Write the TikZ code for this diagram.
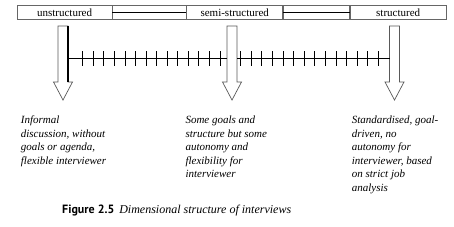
\documentclass[tikz,border=0pt]{standalone}
\usepackage{fontspec}
\setmainfont{Liberation Serif}
\newfontfamily\capsans{PT Sans}
\usetikzlibrary{positioning}

\begin{document}
\begin{tikzpicture}[x=1pt, y=-1pt,
  barbox/.style={draw=gray!80!black, line width=0.7pt, minimum height=14.5pt,
    inner sep=0pt, anchor=west, font=\fontsize{11}{13}\selectfont},
  arrowline/.style={draw=gray!70!black, line width=0.7pt, fill=white},
  desc/.style={anchor=north west, inner sep=0pt, align=left,
    font=\itshape\fontsize{11}{13.5}\selectfont}]
  \useasboundingbox (0,0) rectangle (454,226);
  % top bar
  \node[barbox, minimum width=94.5pt] (unstr) at (17,12.3) {unstructured};
  \node[barbox, minimum width=73.5pt] (gapA) at (unstr.east) {};
  \node[barbox, minimum width=96pt] (semi) at (gapA.east) {semi-structured};
  \node[barbox, minimum width=66pt] (gapB) at (semi.east) {};
  \node[barbox, minimum width=96pt] (str) at (gapB.east) {structured};
  \draw[line width=1.1pt] (gapA.west) -- (gapA.east);
  \draw[line width=1.1pt] (gapB.west) -- (gapB.east);
  % hollow arrows
  \foreach \c/\n in {63/lo, 232/mid, 394.5/hi} {
    \draw[arrowline] (\c-5,26) -- (\c+5,26) -- (\c+5,82) -- (\c+9.5,82)
      -- (\c,100) -- (\c-9.5,82) -- (\c-5,82) -- cycle;
    \coordinate (\n L) at (\c-5,58.5);
    \coordinate (\n R) at (\c+5,58.5);
  }
  \draw[line width=1.4pt] (68,26.3) -- (68,82);
  % scale with ticks
  \draw[line width=0.8pt] (loR) -- (midL);
  \draw[line width=0.8pt] (midR) -- (hiL);
  \foreach \i in {0,...,13} {
    \draw[line width=0.8pt] (82.7+10.56*\i,51) -- (82.7+10.56*\i,65.7);
    \draw[line width=0.8pt] (240.7+10.58*\i,51) -- (240.7+10.58*\i,65.7);
  }
  % descriptions
  \node[desc] (infml) at (20.7,115.7) {Informal\\discussion, without\\goals or agenda,\\flexible interviewer};
  \node[desc] (some) at (185.3,115.7) {Some goals and\\structure but some\\autonomy and\\flexibility for\\interviewer};
  \node[desc] (stand) at (351.7,115.7) {Standardised, goal-\\driven, no\\autonomy for\\interviewer, based\\on strict job\\analysis};
  % caption
  \node[anchor=base west, inner sep=0pt] (cap) at (62,213)
    {\capsans\bfseries\fontsize{12}{14}\selectfont Figure 2.5\hspace{5pt}\rmfamily\mdseries\itshape Dimensional structure of interviews};
\end{tikzpicture}
\end{document}
